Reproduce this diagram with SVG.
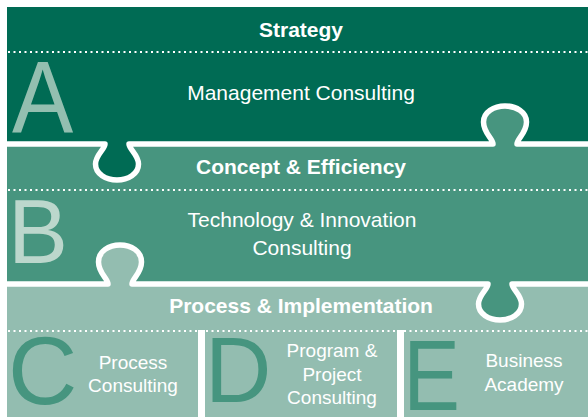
<svg xmlns="http://www.w3.org/2000/svg" width="588" height="417" viewBox="0 0 588 417">
<style>
.head{font-family:"Liberation Sans",Arial,sans-serif;font-weight:bold;font-size:21px;fill:#fff;text-anchor:middle}
.body{font-family:"Liberation Sans",Arial,sans-serif;font-size:21px;fill:#fff;text-anchor:middle}
.small{font-family:"Liberation Sans",Arial,sans-serif;font-size:19px;fill:#fff;text-anchor:middle}
.big{font-family:"Liberation Sans",Arial,sans-serif}
.dots{stroke:#fff;stroke-width:2;stroke-dasharray:2 3.5;fill:none}
.seam{stroke:#fff;stroke-width:5.5;fill:none;stroke-linejoin:round}
</style>
<rect width="588" height="417" fill="#fff"/>
<g id="band-c">
<rect x="7" y="200" width="581" height="217" fill="#93bdb0"/>
<line class="dots" x1="8" y1="331" x2="588" y2="331"/>
<text class="head" x="301" y="313">Process &amp; Implementation</text>
</g>
<g id="band-b">
<path fill="#47957f" d="M7,100 H588 V284 H512 C512,289 521.5,295 521.5,304 C521.5,314 511,320 500,320 C489,320 478.5,314 478.5,304 C478.5,295 488,289 488,284 H132 C132,279 141.5,273 141.5,262 C141.5,251 131,245 120,245 C109,245 98.5,251 98.5,262 C98.5,273 108,279 108,284 H7 Z"/>
<line class="dots" x1="8" y1="190" x2="588" y2="190"/>
<text class="big" x="8" y="263" font-size="90" fill="#bcd7cc">B</text>
<text class="head" x="301" y="174">Concept &amp; Efficiency</text>
<text class="body" x="302" y="227">Technology &amp; Innovation</text>
<text class="body" x="302" y="255">Consulting</text>
</g>
<g id="band-a">
<path fill="#006b54" d="M7,7 H588 V144 H517 C517,139 526.5,133 526.5,122 C526.5,112 516,106 505,106 C494,106 483.5,112 483.5,122 C483.5,133 493,139 493,144 H129 C129,149 138.5,155 138.5,164 C138.5,174 128,180 117,180 C106,180 95.5,174 95.5,164 C95.5,155 105,149 105,144 H7 Z"/>
<line class="dots" x1="8" y1="52" x2="588" y2="52"/>
<text class="big" x="0" y="0" font-size="102" fill="#93bfb0" transform="translate(12,133) scale(0.9,1)">A</text>
<text class="head" x="301" y="37">Strategy</text>
<text class="body" x="301" y="100">Management Consulting</text>
</g>
<g id="seams">
<path class="seam" d="M7,144 H105 C105,149 95.5,155 95.5,164 C95.5,174 106,180 117,180 C128,180 138.5,174 138.5,164 C138.5,155 129,149 129,144 H493 C493,139 483.5,133 483.5,122 C483.5,112 494,106 505,106 C516,106 526.5,112 526.5,122 C526.5,133 517,139 517,144 H588"/>
<path class="seam" d="M7,284 H108 C108,279 98.5,273 98.5,262 C98.5,251 109,245 120,245 C131,245 141.5,251 141.5,262 C141.5,273 132,279 132,284 H488 C488,289 478.5,295 478.5,304 C478.5,314 489,320 500,320 C511,320 521.5,314 521.5,304 C521.5,295 512,289 512,284 H588"/>
<rect x="198" y="330" width="7" height="87" fill="#fff"/>
<rect x="397" y="330" width="7" height="87" fill="#fff"/>
</g>
<g id="col-c">
<text class="big" x="8" y="404" font-size="96" fill="#46957f">C</text>
<text class="small" x="133" y="369">Process</text>
<text class="small" x="133" y="392">Consulting</text>
</g>
<g id="col-d">
<text class="big" x="205" y="402" font-size="92" fill="#46957f">D</text>
<text class="small" x="332" y="357">Program &amp;</text>
<text class="small" x="332" y="381">Project</text>
<text class="small" x="332" y="404">Consulting</text>
</g>
<g id="col-e">
<text class="big" x="0" y="0" font-size="100" fill="#46957f" transform="translate(410,410) scale(0.85,1)" dx="-8">E</text>
<text class="small" x="524" y="367">Business</text>
<text class="small" x="524" y="391">Academy</text>
</g>
</svg>
